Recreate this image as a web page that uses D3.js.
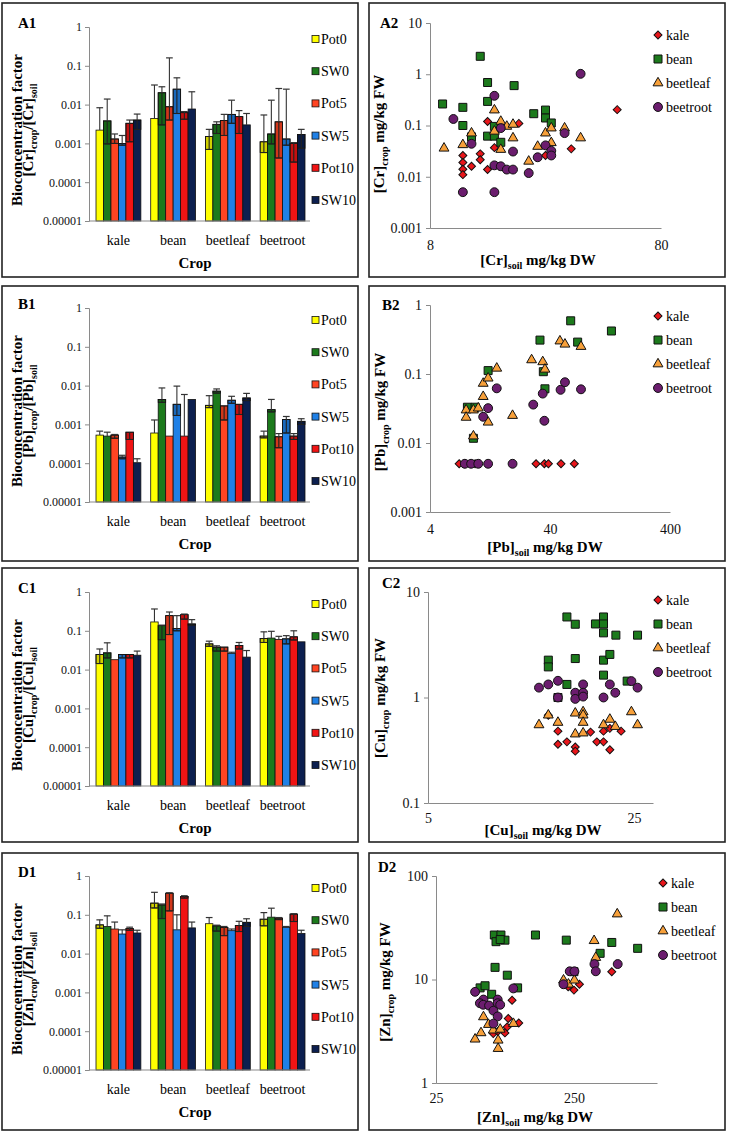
<!DOCTYPE html>
<meta charset="utf-8">
<style>
  body { margin: 0; background: #fff; }
  svg, svg text { font-family: "Liberation Serif", "Times New Roman", serif; }
</style>
<svg id="fig" width="730" height="1133"></svg>
<script src="https://d3js.org/d3.v7.min.js"></script>
<script>
// ---------------------------------------------------------------------------
//                               DATA
// ---------------------------------------------------------------------------
var crops = ["kale", "bean", "beetleaf", "beetroot"];
var treatments = ["Pot0", "SW0", "Pot5", "SW5", "Pot10", "SW10"];
var barTicks = [0.00001, 0.0001, 0.001, 0.01, 0.1, 1];

// Bioconcentration factor, rows = crops, columns = treatments
var crBcf   = [[0.0022, 0.0038, 0.0013, 0.0010, 0.0033, 0.0040],
               [0.0044, 0.0202, 0.0088, 0.0250, 0.0062, 0.0077],
               [0.0015, 0.0031, 0.0039, 0.0056, 0.0049, 0.0030],
               [0.0011, 0.00175, 0.0036, 0.0013, 0.0010, 0.0017]];
var crBcfHi = [[0.0083, 0.0139, 0.00175, 0.0016, 0.0040, 0.0057],
               [0.032, 0.0288, 0.16, 0.049, 0.0066, 0.0214],
               [0.0023, 0.0036, 0.0056, 0.013, 0.0070, 0.0059],
               [0.0054, 0.013, 0.026, 0.025, 0.00105, 0.0023]];
var crBcfLo = [[null, 0.00097, 0.0010, 0.0009, 0.0011, 0.0023],
               [null, 0.0030, 0.0040, 0.0059, 0.0042, null],
               [0.0007, 0.0018, 0.0016, 0.0033, 0.0018, null],
               [0.00058, 0.00097, 0.00042, 0.0009, 0.00033, 0.00075]];

var pbBcf   = [[0.00053, 0.0005, 0.00053, 0.000144, 0.00063, 0.000103],
               [0.0006, 0.0044, 0.0005, 0.0033, 0.0005, 0.0044],
               [0.0031, 0.0072, 0.0030, 0.0042, 0.0033, 0.0048],
               [0.0005, 0.0024, 0.00048, 0.00134, 0.0005, 0.0012]];
var pbBcfHi = [[0.00067, 0.00063, 0.00055, 0.00016, null, 0.00013],
               [0.0013, 0.0087, null, 0.0097, 0.0059, null],
               [0.0055, 0.0082, null, 0.0053, null, 0.0063],
               [0.00067, 0.0044, 0.00058, 0.0016, 0.00058, 0.0014]];
var pbBcfLo = [[null, null, 0.00044, 0.00013, 0.00041, null],
               [null, 0.0037, null, 0.0017, null, null],
               [0.0027, 0.0064, 0.0013, 0.0035, 0.0018, 0.0041],
               [0.00045, 0.0021, 0.00025, 0.0006, 0.00041, 0.001]];

var cuBcf   = [[0.0244, 0.027, 0.018, 0.0244, 0.0244, 0.0235],
               [0.169, 0.136, 0.246, 0.114, 0.261, 0.15],
               [0.046, 0.038, 0.038, 0.026, 0.042, 0.021],
               [0.063, 0.065, 0.06, 0.062, 0.07, 0.052]];
var cuBcfHi = [[0.034, 0.049, null, null, null, 0.03],
               [0.365, 0.14, 0.305, 0.246, 0.27, 0.194],
               [0.054, 0.041, null, 0.028, 0.05, 0.031],
               [0.094, 0.097, 0.072, 0.075, 0.1, null]];
var cuBcfLo = [[0.0143, 0.02, null, 0.02, 0.02, null],
               [null, 0.059, 0.08, 0.1, 0.2, 0.14],
               [0.04, 0.03, 0.03, null, 0.034, null],
               [0.05, null, null, 0.046, 0.058, null]];

var znBcf   = [[0.055, 0.05, 0.043, 0.032, 0.044, 0.034],
               [0.2, 0.18, 0.36, 0.041, 0.295, 0.046],
               [0.059, 0.052, 0.047, 0.039, 0.053, 0.064],
               [0.077, 0.087, 0.082, 0.047, 0.104, 0.033]];
var znBcfHi = [[0.074, 0.094, 0.065, 0.041, 0.048, 0.04],
               [0.38, 0.19, 0.37, 0.1, 0.31, 0.065],
               [0.085, 0.054, 0.05, 0.043, 0.068, 0.079],
               [0.114, 0.148, 0.085, 0.05, 0.107, 0.04]];
var znBcfLo = [[0.045, null, null, null, 0.04, null],
               [0.15, 0.08, 0.126, null, 0.27, null],
               [null, 0.038, 0.029, null, 0.037, 0.05],
               [0.052, null, 0.075, null, 0.067, null]];

// Soil vs crop concentration, [soil mg/kg DW, crop mg/kg FW]
var crKale = [[51.7,0.204],[32.7,0.035],[19.4,0.11],[14.2,0.12],[15.2,0.037],[13.2,0.028],[13.2,0.0215],
              [14.2,0.0138],[12.1,0.016],[11.1,0.026],[11.1,0.019],[11.1,0.014],[11.1,0.011],[25.3,0.026]];
var crBean = [[9.07,0.263],[11.1,0.226],[11.1,0.1],[13.2,2.24],[14.2,0.69],[14.2,0.295],[14.2,0.062],
              [15.2,0.096],[15.2,0.062],[16.2,0.047],[18.5,0.6],[22.5,0.17],[25.3,0.2],[25.3,0.14],
              [26.8,0.112],[12.1,0.06]];
var crBeetleaf = [[9.2,0.036],[11.1,0.042],[12.1,0.071],[15.2,0.2],[15.2,0.077],[16.2,0.12],[16.2,0.034],
                  [17.2,0.096],[18.3,0.105],[18.3,0.057],[21.4,0.02],[23.4,0.039],[25.3,0.071],
                  [26.8,0.089],[26.8,0.046],[30.6,0.089],[35.9,0.057]];
var crBeetroot = [[10.1,0.134],[12.1,0.044],[11.1,0.005],[15.2,0.005],[15.2,0.38],[16.2,0.089],
                  [15.2,0.0167],[16.2,0.016],[17.2,0.0138],[18.3,0.0138],[18.3,0.031],[21.4,0.0118],
                  [23.4,0.024],[25.3,0.041],[26.8,0.032],[26.8,0.026],[30.6,0.071],[35.9,1.02]];

var pbKale = [[7.0,0.005],[7.8,0.005],[9.5,0.005],[30.6,0.005],[35.9,0.005],[38.8,0.005],[49.4,0.005],[63.8,0.005]];
var pbBean = [[8.2,0.033],[9.5,0.033],[9.2,0.0117],[12.2,0.112],[33.0,0.31],[59.5,0.59],[68,0.29],
              [130,0.42],[35.2,0.108],[36.3,0.061]];
var pbBeetleaf = [[8.0,0.030],[8.0,0.0235],[9.2,0.030],[10.1,0.032],[9.2,0.0126],[11.1,0.047],[11.1,0.073],
                  [12.2,0.087],[12.2,0.020],[14.4,0.121],[19.5,0.025],[28.1,0.16],[34.8,0.15],[36.3,0.117],
                  [48.4,0.30],[53.3,0.27],[72.5,0.25]];
var pbBeetroot = [[7.8,0.005],[8.8,0.005],[10.1,0.005],[12.2,0.005],[19.5,0.005],[14.4,0.062],[12.2,0.032],
                  [11.1,0.024],[29.0,0.036],[34.8,0.052],[35.9,0.021],[49.0,0.059],[53.3,0.076],[72.5,0.060]];

var cuKale = [[13.8,0.48],[13.8,0.36],[14.8,0.38],[15.8,0.34],[15.8,0.31],[17.8,0.47],[18.7,0.38],
              [19.7,0.38],[19.7,0.48],[20.7,0.51],[20.7,0.32],[22.6,0.48],[12.8,0.68]];
var cuBean = [[14.8,5.8],[15.8,4.95],[18.5,4.98],[19.7,5.8],[19.7,4.98],[19.7,4.1],[21.7,3.9],[25.7,3.9],
              [12.8,2.26],[12.8,1.95],[15.8,2.34],[19.7,2.26],[20.7,2.56],[19.7,1.63],[14.8,1.33],
              [23.7,1.43],[13.8,1.0]];
var cuBeetleaf = [[11.9,0.55],[12.8,0.68],[13.8,0.58],[15.8,0.71],[15.8,0.45],[16.8,0.73],[16.8,0.68],
                  [16.8,0.58],[16.8,0.46],[19.7,0.55],[20.7,0.62],[21.6,0.53],[24.5,0.73],[25.7,0.55]];
var cuBeetroot = [[11.9,1.24],[12.8,1.33],[13.8,1.44],[13.8,1.0],[15.8,1.11],[15.8,0.97],[16.8,1.33],
                  [16.8,1.11],[16.8,1.02],[19.7,1.0],[20.7,1.33],[21.6,1.11],[24.5,1.43],[25.7,1.24]];

var znKale = [[89,6.3],[83.5,4.2],[99.5,3.8],[82,3.48],[79,3.05],[65,3.0],[70,3.15],[274,9.0],[250,7.9],
              [227,8.5],[470,11.9]];
var znBean = [[66.2,26.9],[73.9,26.9],[68.1,23.2],[79,24.0],[73,24.3],[131.5,26.9],[220,24.0],[470,22.8],
              [724,20],[387,17.9],[67,13.1],[82.2,11.0],[97.6,8.3],[52.2,8.3],[56.7,8.7],[63.3,7.2],[250,11.9]];
var znBeetleaf = [[48,2.65],[53,3.05],[55.2,4.35],[60,3.67],[65,3.24],[70.5,2.59],[70.5,2.15],[73,3.3],
                  [91,3.75],[210,9.85],[228,9.0],[252,9.85],[360,16.3],[350,23.7],[515,42.9]];
var znBeetroot = [[48,7.6],[55.2,6.4],[52,5.9],[55,5.7],[60.6,5.6],[65.2,5.0],[70,6.4],[70,5.9],[73,5.7],
                  [70,4.4],[65.2,3.75],[90.8,8.2],[233,12.0],[252,12.0],[210,9.0],[352,14.1],[360,12.0],[519,14.1]];

// ---------------------------------------------------------------------------
//                               STYLE
// ---------------------------------------------------------------------------
var treatmentColor = d3.scaleOrdinal()
    .domain(treatments)
    .range(["#ffff00", "#1c7a1c", "#ff4422", "#1f80e6", "#f01414", "#0c1f4f"]);
var cropColor = d3.scaleOrdinal()
    .domain(crops)
    .range(["#e8161b", "#1c7a1c", "#f7a03a", "#6b1d6e"]);
var cropSymbol = {
  kale:     { type: d3.symbolSquare,   size: 32, rot: 45 },
  bean:     { type: d3.symbolSquare,   size: 64, rot: 0 },
  beetleaf: { type: d3.symbolTriangle, size: 42, rot: 0 },
  beetroot: { type: d3.symbolCircle,   size: 62, rot: 0 }
};

var svg = d3.select("#fig");
svg.append("rect").attr("width", 730).attr("height", 1133).attr("fill", "#fff");

// text with subscript parts: [["[Cr]",0],["crop",1],...]
function subText(sel, parts) {
  parts.forEach(function(p, i) {
    var ts = sel.append("tspan").text(p[0]);
    if (p[1]) ts.attr("font-size", "10px").attr("dy", 4);
    else if (i > 0 && parts[i - 1][1]) ts.attr("dy", -4);
  });
}

function frame(x0, y0, x1, y1) {
  svg.append("rect")
      .attr("x", x0).attr("y", y0)
      .attr("width", x1 - x0).attr("height", y1 - y0)
      .attr("fill", "none").attr("stroke", "#222").attr("stroke-width", 1.6);
}

function styleAxis(g) {
  g.attr("font-family", null);
  g.select(".domain").attr("stroke", "#8a8a8a");
  g.selectAll(".tick line").attr("stroke", "#8a8a8a");
  g.selectAll("text").attr("fill", "#111");
}

// ---------------------------------------------------------------------------
//                        BAR PANELS (left column)
// ---------------------------------------------------------------------------
function barPanel(cfg) {
  var oy = cfg.top;
  var g = svg.append("g");
  frame(2, cfg.box[0], 358, cfg.box[1]);

  var y = d3.scaleLog().domain([0.00001, 1]).range([oy + 221, oy + 27]);
  var x0 = d3.scaleBand().domain(crops).range([89, 312])
      .paddingInner(0.18).paddingOuter(0.128);
  var x1 = d3.scaleBand().domain(treatments).range([0, x0.bandwidth()]);
  var bw = x1.bandwidth();

  // bars
  crops.forEach(function(c, i) {
    treatments.forEach(function(t, j) {
      var v = cfg.mean[i][j], hi = cfg.hi[i][j], lo = cfg.lo[i][j];
      var bx = x0(c) + x1(t), cx = bx + bw / 2;
      g.append("rect")
          .attr("x", bx).attr("y", y(v))
          .attr("width", bw).attr("height", y(0.00001) - y(v))
          .attr("fill", treatmentColor(t))
          .attr("stroke", "#111").attr("stroke-width", 0.8);
      if (lo) {
        g.append("rect")
            .attr("x", bx).attr("y", y(v))
            .attr("width", bw).attr("height", y(lo) - y(v))
            .attr("fill", "#000").attr("fill-opacity", 0.18)
            .attr("stroke", "#111").attr("stroke-width", 0.8);
        g.append("line").attr("x1", cx).attr("x2", cx)
            .attr("y1", y(v)).attr("y2", y(lo))
            .attr("stroke", "#222").attr("stroke-width", 1.1);
        g.append("line").attr("x1", cx - bw * 0.4).attr("x2", cx + bw * 0.4)
            .attr("y1", y(lo)).attr("y2", y(lo))
            .attr("stroke", "#222").attr("stroke-width", 1.1);
      }
      if (hi) {
        g.append("line").attr("x1", cx).attr("x2", cx)
            .attr("y1", y(v)).attr("y2", y(hi))
            .attr("stroke", "#333").attr("stroke-width", 1.1);
        g.append("line").attr("x1", cx - bw * 0.45).attr("x2", cx + bw * 0.45)
            .attr("y1", y(hi)).attr("y2", y(hi))
            .attr("stroke", "#333").attr("stroke-width", 1.2);
      }
    });
  });

  // axes
  g.append("g").attr("transform", "translate(89,0)")
      .call(d3.axisLeft(y).tickValues(barTicks).tickFormat(String).tickSize(4).tickPadding(3))
      .call(styleAxis)
      .selectAll("text").attr("font-size", "12px");
  g.append("line").attr("x1", 89).attr("x2", 310)
      .attr("y1", y(0.00001)).attr("y2", y(0.00001)).attr("stroke", "#8a8a8a");

  // category labels
  g.selectAll(".cat").data(crops).enter().append("text")
      .attr("x", function(d) { return x0(d) + x0.bandwidth() / 2; })
      .attr("y", oy + 245)
      .attr("text-anchor", "middle").attr("font-size", "14px")
      .text(function(d) { return d; });
  g.append("text").attr("x", 195).attr("y", oy + 268)
      .attr("text-anchor", "middle").attr("font-size", "15px").attr("font-weight", "bold")
      .text("Crop");

  // panel label
  g.append("text").attr("x", 18).attr("y", oy + 28)
      .attr("font-size", "15px").attr("font-weight", "bold").text(cfg.label);

  // y title
  var yt = g.append("g").attr("transform", "translate(22," + (oy + 130) + ") rotate(-90)")
      .attr("font-weight", "bold").attr("font-size", "15px").attr("text-anchor", "middle");
  yt.append("text").text("Bioconcentration factor");
  subText(yt.append("text").attr("y", 11),
      [["[" + cfg.el + "]", 0], ["crop", 1], ["/[" + cfg.el + "]", 0], ["soil", 1]]);

  // legend
  treatments.forEach(function(t, j) {
    var ly = oy + 39 + j * 32.2;
    g.append("rect").attr("x", 312).attr("y", ly - 3.5).attr("width", 7).attr("height", 7)
        .attr("fill", treatmentColor(t)).attr("stroke", "#111").attr("stroke-width", 0.8);
    g.append("text").attr("x", 321).attr("y", ly + 5).attr("font-size", "14px").text(t);
  });
}

// ---------------------------------------------------------------------------
//                      SCATTER PANELS (right column)
// ---------------------------------------------------------------------------
function marker(sel, crop) {
  var s = cropSymbol[crop];
  sel.append("path")
      .attr("d", d3.symbol().type(s.type).size(s.size)())
      .attr("fill", cropColor(crop))
      .attr("stroke", "#111").attr("stroke-width", 1);
  if (s.rot) sel.select("path").attr("transform", "rotate(" + s.rot + ")");
}

function scatterPanel(cfg) {
  var g = svg.append("g");
  frame(369, cfg.box[0], 725, cfg.box[1]);

  var x = d3.scaleLog().domain(cfg.xDom).range(cfg.xR);
  var y = d3.scaleLog().domain(cfg.yDom).range(cfg.yR);
  var x0 = cfg.xR[0];

  g.append("g").attr("transform", "translate(" + x0 + ",0)")
      .call(d3.axisLeft(y).tickValues(cfg.yTicks).tickFormat(String).tickSize(4).tickPadding(4))
      .call(styleAxis)
      .selectAll("text").attr("font-size", "14px");
  g.append("g").attr("transform", "translate(0," + cfg.yR[0] + ")")
      .call(d3.axisBottom(x).tickValues(cfg.xTicks).tickFormat(String).tickSize(0).tickPadding(cfg.xPad))
      .call(styleAxis)
      .selectAll("text").attr("font-size", "14px");

  // points, series order kale, bean, beetleaf, beetroot
  crops.forEach(function(c, i) {
    cfg.sets[i].forEach(function(p) {
      var m = g.append("g").attr("transform", "translate(" + x(p[0]) + "," + y(p[1]) + ")");
      marker(m, c);
    });
  });

  // titles
  g.append("text").attr("x", cfg.labX).attr("y", cfg.labY)
      .attr("font-size", "15px").attr("font-weight", "bold").text(cfg.label);
  subText(g.append("text").attr("x", cfg.xTitleX).attr("y", cfg.xTitleY)
      .attr("text-anchor", "middle").attr("font-size", "15px").attr("font-weight", "bold"),
      [["[" + cfg.el + "]", 0], ["soil", 1], [" mg/kg DW", 0]]);
  subText(g.append("text")
      .attr("transform", "translate(" + cfg.yTitleX + "," + cfg.yTitleY + ") rotate(-90)")
      .attr("text-anchor", "middle").attr("font-size", "15px").attr("font-weight", "bold"),
      [["[" + cfg.el + "]", 0], ["crop", 1], [" mg/kg FW", 0]]);

  // legend
  crops.forEach(function(c, i) {
    var ly = cfg.legY + i * 24;
    marker(g.append("g").attr("transform", "translate(" + cfg.legX + "," + ly + ")"), c);
    g.append("text").attr("x", cfg.legX + 8).attr("y", ly + 5)
        .attr("font-size", "14px").text(c);
  });
}

// ---------------------------------------------------------------------------
//                               DRAW
// ---------------------------------------------------------------------------
barPanel({ top: 0,   box: [3, 277],   label: "A1", el: "Cr", mean: crBcf, hi: crBcfHi, lo: crBcfLo });
barPanel({ top: 281, box: [286, 561], label: "B1", el: "Pb", mean: pbBcf, hi: pbBcfHi, lo: pbBcfLo });
barPanel({ top: 565, box: [568, 842], label: "C1", el: "Cu", mean: cuBcf, hi: cuBcfHi, lo: cuBcfLo });
barPanel({ top: 849, box: [853, 1130], label: "D1", el: "Zn", mean: znBcf, hi: znBcfHi, lo: znBcfLo });

scatterPanel({ box: [3, 277], label: "A2", el: "Cr", sets: [crKale, crBean, crBeetleaf, crBeetroot],
  xDom: [8, 80], xR: [430, 661], yDom: [0.001, 10], yR: [228, 23],
  xTicks: [8, 80], yTicks: [0.001, 0.01, 0.1, 1, 10], xPad: 12,
  labX: 380, labY: 28, xTitleX: 538, xTitleY: 265, yTitleX: 384, yTitleY: 134, legX: 658, legY: 35 });
scatterPanel({ box: [286, 561], label: "B2", el: "Pb", sets: [pbKale, pbBean, pbBeetleaf, pbBeetroot],
  xDom: [4, 400], xR: [430, 670], yDom: [0.001, 1], yR: [512, 305],
  xTicks: [4, 40, 400], yTicks: [0.001, 0.01, 0.1, 1], xPad: 12,
  labX: 382, labY: 310, xTitleX: 545, xTitleY: 552, yTitleX: 385, yTitleY: 412, legX: 658, legY: 316 });
scatterPanel({ box: [568, 842], label: "C2", el: "Cu", sets: [cuKale, cuBean, cuBeetleaf, cuBeetroot],
  xDom: [5, 29], xR: [428, 653], yDom: [0.1, 10], yR: [803, 592],
  xTicks: [5, 25], yTicks: [0.1, 1, 10], xPad: 10,
  labX: 382, labY: 588, xTitleX: 543, xTitleY: 835, yTitleX: 385, yTitleY: 698, legX: 658, legY: 600 });
scatterPanel({ box: [853, 1130], label: "D2", el: "Zn", sets: [znKale, znBean, znBeetleaf, znBeetroot],
  xDom: [25, 1000], xR: [436, 657], yDom: [1, 100], yR: [1083, 876],
  xTicks: [25, 250], yTicks: [1, 10, 100], xPad: 10,
  labX: 378, labY: 872, xTitleX: 535, xTitleY: 1122, yTitleX: 390, yTitleY: 982, legX: 663, legY: 883 });
</script>
